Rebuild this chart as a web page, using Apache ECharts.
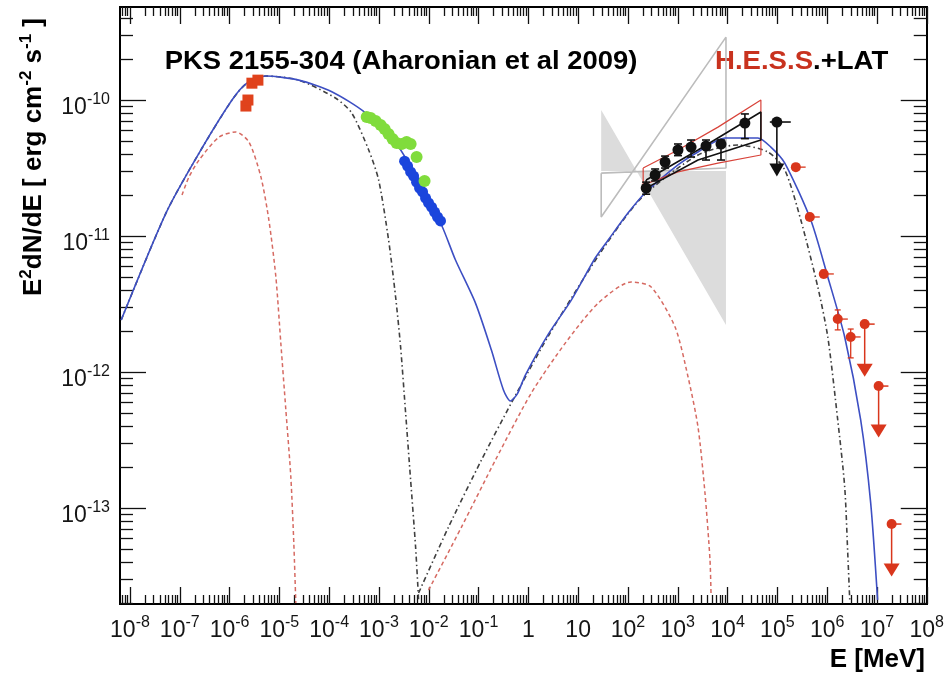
<!DOCTYPE html>
<html><head><meta charset="utf-8">
<script src="https://cdn.jsdelivr.net/npm/echarts@6/dist/echarts.min.js"></script>
<style>html,body{margin:0;padding:0;background:#fff}#c{width:947px;height:674px}</style>
</head><body><div id="c"></div>
<script>
// ===== DATA : E [MeV], E^2 dN/dE [erg cm^-2 s^-1] =====
const modelTotal = [[6.67e-9,2.41e-12],[5.31e-8,1.48e-11],[2.44e-7,4.07e-11],[1.12e-6,1.0e-10],[2.23e-6,1.33e-10],[5.36e-6,1.50e-10],[2.46e-5,1.40e-10],[1.13e-4,1.15e-10],[5.41e-4,8.02e-11],[2.48e-3,4.51e-11],[6.25e-3,2.49e-11],[1.81e-2,1.20e-11],[3.44e-2,6.66e-12],[8.67e-2,3.21e-12],[0.181,1.45e-12],[0.316,7.38e-13],[0.436,6.12e-13],[0.60,6.9e-13],[0.871,9.5e-13],[2.52,1.90e-12],[7.28,3.38e-12],[22.0,6.89e-12],[40.1,9.35e-12],[101,1.48e-11],[221,2.07e-11],[1010,3.33e-11],[2550,4.15e-11],[8870,5.26e-11],[4.06e4,5.26e-11],[7.41e4,4.51e-11],[1.41e5,3.44e-11],[4.69e5,1.31e-11],[1.03e6,5.0e-12],[2.25e6,1.81e-12],[4.71e6,4.44e-13],[7.48e6,1.09e-13],[1.03e7,2.11e-14]];
const syncMain = [[6.67e-9,2.41e-12],[5.31e-8,1.48e-11],[2.44e-7,4.07e-11],[1.12e-6,1.0e-10],[2.23e-6,1.33e-10],[5.36e-6,1.50e-10],[2.46e-5,1.40e-10],[1.36e-4,1.03e-10],[2.84e-4,8.02e-11],[6.22e-4,4.29e-11],[9.86e-4,2.58e-11],[1.56e-3,9.35e-12],[2.16e-3,3.56e-12],[2.72e-3,1.53e-12],[3.43e-3,5.0e-13],[4.32e-3,1.61e-13],[5.44e-3,5.16e-14],[6.25e-3,2.11e-14]];
const icMain = [[6.25e-3,2.37e-14],[2.49e-2,7.24e-14],[0.114,2.25e-13],[0.456,5.92e-13],[2.52,1.84e-12],[25.3,7.13e-12],[184,1.90e-11],[2550,3.94e-11],[1.62e4,4.67e-11],[6.45e4,4.15e-11],[1.41e5,3.06e-11],[2.96e5,1.31e-11],[6.48e5,4.22e-12],[1.03e6,1.81e-12],[1.63e6,4.44e-13],[2.25e6,1.43e-13],[2.59e6,4.67e-14],[2.84e6,2.11e-14]];
const sync2 = [[1.11e-7,2.0e-11],[1.53e-7,2.72e-11],[2.44e-7,3.62e-11],[6.14e-7,5.34e-11],[1.34e-6,5.82e-11],[2.45e-6,4.91e-11],[4.26e-6,2.72e-11],[6.16e-6,1.31e-11],[8.51e-6,5.0e-12],[1.07e-5,1.63e-12],[1.35e-5,5.26e-13],[1.70e-5,1.69e-13],[1.95e-5,5.53e-14],[2.14e-5,2.0e-14]];
const ic2 = [[9.9e-3,2.49e-14],[4.54e-2,7.24e-14],[0.218,2.25e-13],[1.15,7.02e-13],[5.51,1.63e-12],[25.3,3.21e-12],[116,4.59e-12],[292,4.22e-12],[883,2.14e-12],[1610,9.19e-13],[2550,3.94e-13],[3520,1.29e-13],[4440,4.15e-14],[4650,2.37e-14]];

const opticalPts = [[2.13e-6,9.03e-11],[2.34e-6,1.0e-10],[2.81e-6,1.33e-10],[3.71e-6,1.40e-10]];
const xrayGreen = [[5.67e-4,7.50e-11],[6.82e-4,7.38e-11],[8.59e-4,7.01e-11],[1.08e-3,6.55e-11],[1.30e-3,6.12e-11],[1.56e-3,5.62e-11],[1.88e-3,5.16e-11],[2.26e-3,4.83e-11],[2.85e-3,4.74e-11],[3.59e-3,4.91e-11],[4.32e-3,4.74e-11],[5.70e-3,3.81e-11],[8.24e-3,2.54e-11]];
const xrayBlue = [[3.27e-3,3.55e-11],[3.76e-3,3.27e-11],[4.32e-3,2.96e-11],[4.96e-3,2.76e-11],[5.70e-3,2.49e-11],[6.54e-3,2.25e-11],[7.51e-3,2.11e-11],[8.63e-3,1.90e-11],[9.91e-3,1.75e-11],[1.14e-2,1.63e-11],[1.31e-2,1.50e-11],[1.50e-2,1.38e-11],[1.72e-2,1.29e-11]];

// [E, F, Elo, Ehi, Flo, Fhi]
const latPts = [[232,2.25e-11,184,292,2.03e-11,2.49e-11],[351,2.81e-11,279,442,2.54e-11,3.11e-11],[556,3.50e-11,442,700,3.16e-11,3.87e-11],[1010,4.29e-11,800,1270,3.90e-11,4.75e-11],[1850,4.51e-11,1470,2330,3.81e-11,5.08e-11],[3690,4.59e-11,2930,4650,3.62e-11,5.08e-11],[7380,4.74e-11,5860,9300,3.62e-11,5.08e-11],[2.23e4,6.77e-11,1.77e4,2.81e4,5.2e-11,7.9e-11]];
// [E, F, Elo, Ehi, Farrow]
const latUL = [[9.77e4,6.89e-11,7.06e4,1.86e5,3.06e-11]];
const hessPts = [[2.35e5,3.21e-11,2.0e5,3.7e5,3.05e-11,3.38e-11],[4.48e5,1.38e-11,3.8e5,7.1e5,1.31e-11,1.45e-11],[8.55e5,5.26e-12,7.3e5,1.36e6,4.95e-12,5.6e-12],[1.63e6,2.45e-12,1.39e6,2.6e6,2.04e-12,2.86e-12],[2.97e6,1.81e-12,2.52e6,4.7e6,1.27e-12,2.07e-12]];
const hessUL = [[5.67e6,2.25e-12,4.8e6,9.0e6,1.03e-12],[1.08e7,7.88e-13,9.2e6,1.7e7,3.68e-13],[1.97e7,7.62e-14,1.7e7,3.1e7,3.50e-14]];

const bowGrayFill = [[29.0,8.44e-11],[29.0,3.0e-11],[9290,3.0e-11],[9290,2.22e-12]];
const bowGrayLine = [[29.0,2.90e-11],[9290,3.16e-11],[9290,2.90e-10],[29.0,1.38e-11],[29.0,2.90e-11]];
const bowRed = [[202,3.16e-11],[1010,4.29e-11],[6420,6.32e-11],[4.67e4,1.0e-10],[4.67e4,3.94e-11],[6420,3.44e-11],[1010,2.96e-11],[202,2.37e-11],[202,3.16e-11]];
const bowBlack = [[232,2.58e-11],[2550,4.29e-11],[4.67e4,8.16e-11],[4.67e4,5.08e-11],[2550,3.62e-11],[232,2.25e-11],[232,2.58e-11]];

// axes (exponents of 10)
const xRangeExp = [-8.2, 8];
const yRangeExp = [-13.706, -9.316];
const xMajorExp = [-8,-7,-6,-5,-4,-3,-2,-1,0,1,2,3,4,5,6,7,8];
const yMajorExp = [-13,-12,-11,-10];
const minorMult = [2,3,4,5,6,7,8,9];

// ===== BUILD =====
const L = Math.log10;
const lg = arr => arr.map(p => p.map(L));
const FONT = '"Liberation Sans", Arial, Helvetica, sans-serif';
function minors(a, b, from, to){ const out=[]; for(let n=a;n<=b;n++) for(const k of minorMult){ const v=n+L(k); if(v>from && v<to) out.push(v);} return out; }
const xMinorExp = minors(-9, 7, xRangeExp[0], xRangeExp[1]);
const yMinorExp = minors(-14, -10, yRangeExp[0], yRangeExp[1]);

function expLabel(v){ const n=Math.round(v); if(n===0) return '{b|1}'; if(n===1) return '{b|10}'; return '{b|10}{s|'+n+'}'; }
const xRich = { b:{fontSize:23, fontFamily:FONT, color:'#151515', padding:[8,0,0,0]}, s:{fontSize:16, fontFamily:FONT, color:'#151515', padding:[0,0,8,0]} };
const yRich = { b:{fontSize:23, fontFamily:FONT, color:'#151515', padding:[16,0,0,0]}, s:{fontSize:16, fontFamily:FONT, color:'#151515'} };

function axis(kind, pos, vals, len, label){
  return { type:'value', position:pos, gridIndex:0,
    min: kind==='x'?xRangeExp[0]:yRangeExp[0], max: kind==='x'?xRangeExp[1]:yRangeExp[1],
    axisLine:{show:true, onZero:false, lineStyle:{color:'#000', width:2}},
    axisTick:{show:true, inside:true, length:len, customValues:vals, lineStyle:{color:'#111', width:1.3}},
    splitLine:{show:false}, minorTick:{show:false},
    axisLabel: label || {show:false} };
}
const xAxes = [
  axis('x','bottom',xMajorExp,17,{show:true, customValues:xMajorExp, margin:7, formatter:expLabel, rich:xRich}),
  axis('x','bottom',xMinorExp,9),
  axis('x','top',xMajorExp,17),
  axis('x','top',xMinorExp,9)
];
const yAxes = [
  axis('y','left',yMajorExp,26,{show:true, customValues:yMajorExp, margin:10, formatter:expLabel, rich:yRich}),
  axis('y','left',yMinorExp,13),
  axis('y','right',yMajorExp,26),
  axis('y','right',yMinorExp,13)
];

function lineSeries(data, color, width, dash, z, smooth){
  return {type:'line', data:lg(data), showSymbol:false, symbol:'none', smooth:smooth===undefined?0.25:smooth, clip:true, z:z||2,
    lineStyle:{color:color, width:width, type:dash||'solid'}, silent:true};
}
function errSeries(data, color, lw, cap, ulMode){
  return {type:'custom', clip:true, z:5, silent:true,
    data: lg(data),
    encode:{x:0, y:1},
    renderItem:function(params, api){
      const x=api.value(0), y=api.value(1);
      const c=api.coord([x,y]);
      const xl=api.coord([api.value(2),y]), xh=api.coord([api.value(3),y]);
      const st={stroke:color, lineWidth:lw};
      const ch=[{type:'line', shape:{x1:xl[0],y1:c[1],x2:xh[0],y2:c[1]}, style:st}];
      if(ulMode){
        const ya=api.coord([x,api.value(4)]);
        ch.push({type:'line', shape:{x1:c[0],y1:c[1],x2:c[0],y2:ya[1]}, style:st});
      } else {
        const yl=api.coord([x,api.value(4)]), yh=api.coord([x,api.value(5)]);
        ch.push({type:'line', shape:{x1:c[0],y1:yl[1],x2:c[0],y2:yh[1]}, style:st});
        if(cap){
          ch.push({type:'line', shape:{x1:c[0]-cap,y1:yl[1],x2:c[0]+cap,y2:yl[1]}, style:st});
          ch.push({type:'line', shape:{x1:c[0]-cap,y1:yh[1],x2:c[0]+cap,y2:yh[1]}, style:st});
        }
      }
      return {type:'group', children:ch};
    }};
}
function polySeries(data, fill){
  return {type:'custom', clip:true, z:1, silent:true, data:[0],
    renderItem:function(params, api){
      const pts = lg(data).map(p=>api.coord(p));
      return {type:'polygon', shape:{points:pts}, style:{fill:fill, stroke:'none'}};
    }};
}
function scatter(data, color, size, symbol, z){
  return {type:'scatter', data:lg(data), symbol:symbol||'circle', symbolSize:size, z:z||6, silent:true,
    symbolRotate: symbol==='triangle'?180:0, itemStyle:{color:color, opacity:1}};
}

const HESSRED = '#d9361c';
const series = [
  polySeries(bowGrayFill, '#dcdcdc'),
  lineSeries(bowGrayLine, '#bcbcbc', 1.6, 'solid', 1, false),
  lineSeries(sync2, '#d66a62', 1.5, [4,3]),
  lineSeries(ic2, '#d66a62', 1.5, [4,3]),
  lineSeries(syncMain, '#404040', 1.6, [5,3,1.5,3]),
  lineSeries(icMain, '#404040', 1.6, [5,3,1.5,3]),
  lineSeries(modelTotal, '#3d4fc3', 1.6, 'solid', 3),
  lineSeries(bowRed, '#d8433a', 1.2, 'solid', 4, false),
  lineSeries(bowBlack, '#111', 1.6, 'solid', 4, false),
  scatter(opticalPts, '#e0421c', 11, 'rect'),
  scatter(xrayBlue, '#1b45dc', 11),
  scatter(xrayGreen, '#80dc3c', 12),
  errSeries(latPts, '#111', 1.6, 4),
  errSeries(latUL, '#111', 1.6, 0, true),
  scatter(latPts.map(p=>[p[0],p[1]]), '#111', 11),
  scatter(latUL.map(p=>[p[0],p[1]]), '#111', 11),
  scatter(latUL.map(p=>[p[0],p[4]]), '#111', [15,13], 'triangle', 7),
  errSeries(hessPts, HESSRED, 1.3, 3),
  errSeries(hessUL, HESSRED, 1.5, 0, true),
  scatter(hessPts.map(p=>[p[0],p[1]]), HESSRED, 10),
  scatter(hessUL.map(p=>[p[0],p[1]]), HESSRED, 10),
  scatter(hessUL.map(p=>[p[0],p[4]]), HESSRED, [16,13], 'triangle', 7)
];

const chart = echarts.init(document.getElementById('c'), null, {renderer:'canvas'});
chart.setOption({
  animation:false,
  backgroundColor:'#fff',
  grid:{left:120, right:19, top:7, bottom:70, containLabel:false},
  xAxis:xAxes, yAxis:yAxes,
  series:series,
  graphic:[
    {type:'text', x:401, y:62, scaleX:1.055, style:{text:'PKS 2155-304 (Aharonian et al 2009)', fontSize:26, fontWeight:'bold', fontFamily:FONT, fill:'#000', align:'center', verticalAlign:'middle'}},
    {type:'text', x:715, y:62, scaleX:1.06, style:{text:'{r|H.E.S.S}{k|.+LAT}', fontSize:26, fontWeight:'bold', fontFamily:FONT, align:'left', verticalAlign:'middle',
      rich:{r:{fill:'#c8321e', fontSize:26, fontWeight:'bold', fontFamily:FONT}, k:{fill:'#000', fontSize:26, fontWeight:'bold', fontFamily:FONT}}}},
    {type:'text', x:925, y:660, style:{text:'E [MeV]', fontSize:26, fontWeight:'bold', fontFamily:FONT, fill:'#000', align:'right', verticalAlign:'middle'}},
    {type:'text', x:30, y:157, rotation:Math.PI/2, style:{text:'{n|E}{s|2}{n|dN/dE [ erg cm}{s|-2}{n| s}{s|-1}{n| ]}', align:'center', verticalAlign:'middle',
      rich:{n:{fill:'#000', fontSize:26, fontWeight:'bold', fontFamily:FONT, padding:[8,0,0,0]}, s:{fill:'#000', fontSize:17, fontWeight:'bold', fontFamily:FONT, padding:[0,0,8,0]}}}}
  ]
});
</script></body></html>
